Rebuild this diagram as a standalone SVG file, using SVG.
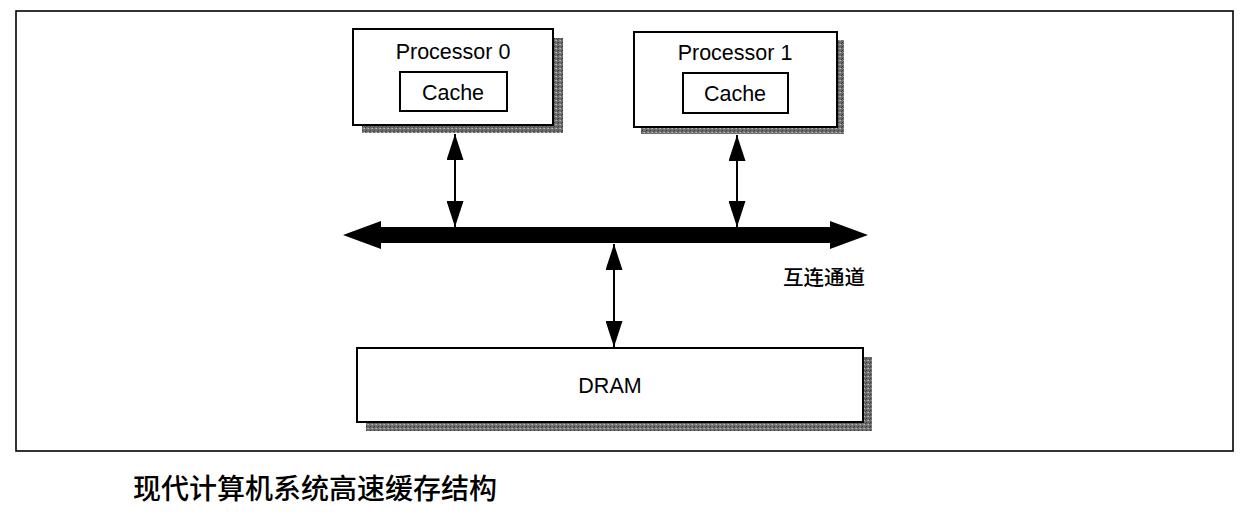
<svg xmlns="http://www.w3.org/2000/svg" width="1244" height="516" viewBox="0 0 1244 516">
<defs>
<pattern id="stip" width="4" height="4" patternUnits="userSpaceOnUse">
<rect width="4" height="4" fill="#6e6e6e"/>
<rect x="0" y="0" width="1" height="1" fill="#bdbdbd"/>
<rect x="2" y="2" width="1" height="1" fill="#333"/>
<rect x="3" y="0" width="1" height="1" fill="#9a9a9a"/>
<rect x="1" y="3" width="1" height="1" fill="#444"/>
</pattern>
<marker id="head" viewBox="0 0 26 17" refX="26" refY="8.5" markerWidth="26" markerHeight="17" markerUnits="userSpaceOnUse" orient="auto-start-reverse">
<path d="M0,0 L26,8.5 L0,17 Z" fill="#000"/>
</marker>
</defs>
<style>
.box{fill:#fff;stroke:#000;stroke-width:2}
.shadow{fill:url(#stip)}
.lbl{font-family:"Liberation Sans",Arial,sans-serif;font-size:21.5px;fill:#000;text-anchor:middle}
.cjk{font-family:"Noto Sans CJK SC",sans-serif;fill:#000}
.conn{stroke:#000;stroke-width:2;fill:none}
</style>
<rect x="0" y="0" width="1244" height="516" fill="#fff"/>
<rect x="16" y="11" width="1217" height="440" fill="none" stroke="#000" stroke-width="1.6"/>

<g id="processor0">
<rect class="shadow" x="362" y="38" width="201" height="95"/>
<rect class="box" x="353" y="29" width="200" height="96"/>
<text class="lbl" x="453" y="59">Processor 0</text>
<g id="cache0">
<rect class="box" x="400" y="72" width="107" height="39" stroke-width="1.6"/>
<text class="lbl" x="453" y="100">Cache</text>
</g>
</g>

<g id="processor1">
<rect class="shadow" x="641" y="40" width="203" height="94"/>
<rect class="box" x="634" y="32" width="203" height="95"/>
<text class="lbl" x="735" y="60">Processor 1</text>
<g id="cache1">
<rect class="box" x="683" y="73" width="105" height="40" stroke-width="1.6"/>
<text class="lbl" x="735" y="101">Cache</text>
</g>
</g>

<g id="dram">
<rect class="shadow" x="366" y="357" width="506" height="74"/>
<rect class="box" x="357" y="348" width="506" height="74"/>
<text class="lbl" x="610" y="393">DRAM</text>
</g>

<g id="bus">
<polygon points="343,235 381,221 381,227 830,227 830,221 868,235 830,249 830,243 381,243 381,249" fill="#000"/>
<text class="cjk" x="783" y="285" font-size="20.5" font-weight="500">互连通道</text>
</g>

<g id="connectors">
<line class="conn" x1="455" y1="134" x2="455" y2="227" marker-start="url(#head)" marker-end="url(#head)"/>
<line class="conn" x1="737" y1="135" x2="737" y2="227" marker-start="url(#head)" marker-end="url(#head)"/>
<line class="conn" x1="614" y1="244" x2="614" y2="347" marker-start="url(#head)" marker-end="url(#head)"/>
</g>

<text class="cjk" x="133" y="499" font-size="28" font-weight="500">现代计算机系统高速缓存结构</text>
</svg>
